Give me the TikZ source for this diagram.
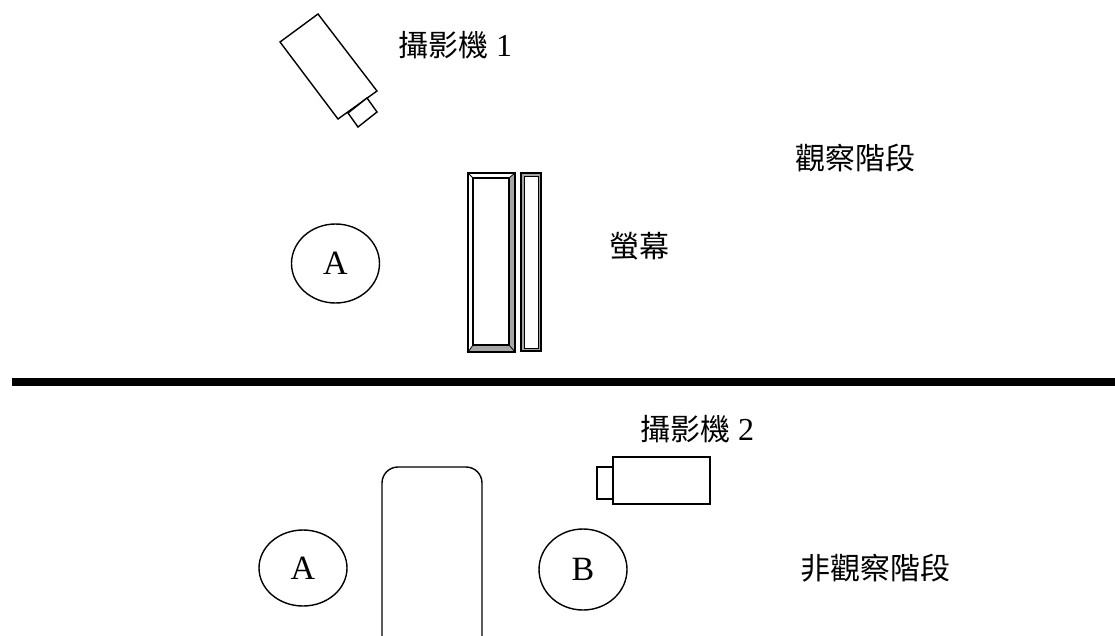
\documentclass[tikz,border=0pt]{standalone}
\usepackage{fontspec}
\usetikzlibrary{shapes.geometric}
\setmainfont{Liberation Serif}
\newfontfamily\cjk{Noto Sans CJK TC}
\newcommand{\dig}[1]{{\rmfamily\fontsize{32}{32}\selectfont #1}}
\begin{document}
\begin{tikzpicture}[x=1pt,y=-1pt,
  outl/.style={draw=black,line width=1.4pt},
  person/.style={ellipse,draw=black,line width=1.4pt,minimum width=88pt,minimum height=79pt,inner sep=0pt,font=\fontsize{34}{36}\selectfont},
  lab/.style={anchor=west,inner sep=0pt,font=\cjk\fontsize{30}{32}\selectfont},
  ]
\useasboundingbox (0,0) rectangle (1115,635);
\fill[white] (0,0) rectangle (1115,635);
\begin{scope}
\clip (0,0) rectangle (1115,635);
% camera 1
\draw[outl,fill=white] (280,42) -- (318,14) -- (377,91) -- (338,119) -- cycle;
\draw[outl,fill=white] (348,113) -- (367,98) -- (377,112) -- (358,127) -- cycle;
% big screen with bevel
\fill[white] (468,173) rectangle (515,352);
\fill[gray!70] (515,173) -- (509,178) -- (509,345) -- (468,352) -- (515,352) -- cycle;
\fill[gray!70] (468,352) -- (473,345) -- (509,345) -- (515,352) -- cycle;
\fill[white] (473,178) rectangle (509,345);
\draw[line width=0.8pt] (468,173) -- (473,178) (515,173) -- (509,178) (468,352) -- (473,345) (515,352) -- (509,345);
\draw[line width=2pt] (468,173) rectangle (515,352);
\draw[line width=1.2pt] (473,178) rectangle (509,345);
% thin screen
\fill[gray!70] (521,173) rectangle (541,351);
\fill[white] (524,176) rectangle (538,348);
\draw[line width=2pt] (521,173) rectangle (541,351);
\draw[line width=1pt] (524,176) rectangle (538,348);
% divider
\draw[line width=8pt] (12,382) -- (1115,382);
% camera 2
\draw[outl,fill=white] (613,457) rectangle (710,504);
\draw[outl,fill=white] (597,467) rectangle (613,499);
% table
\draw[outl,rounded corners=16pt] (382,467) rectangle (482,660);
\end{scope}
% people
\node[person] (A1) at (335.5,263.5) {A};
\node[person,minimum height=76pt] (A2) at (303,568) {A};
\node[person,minimum height=81pt] (B) at (583,569.5) {B};
% labels
\node[lab] (c1) at (398,45) {攝影機\hspace{8pt}\dig{1}};
\node[lab] (obs) at (795,158) {觀察階段};
\node[lab] (scr) at (609,246) {螢幕};
\node[lab] (c2) at (640,429) {攝影機\hspace{8pt}\dig{2}};
\node[lab] (nobs) at (800,568) {非觀察階段};
\end{tikzpicture}
\end{document}
